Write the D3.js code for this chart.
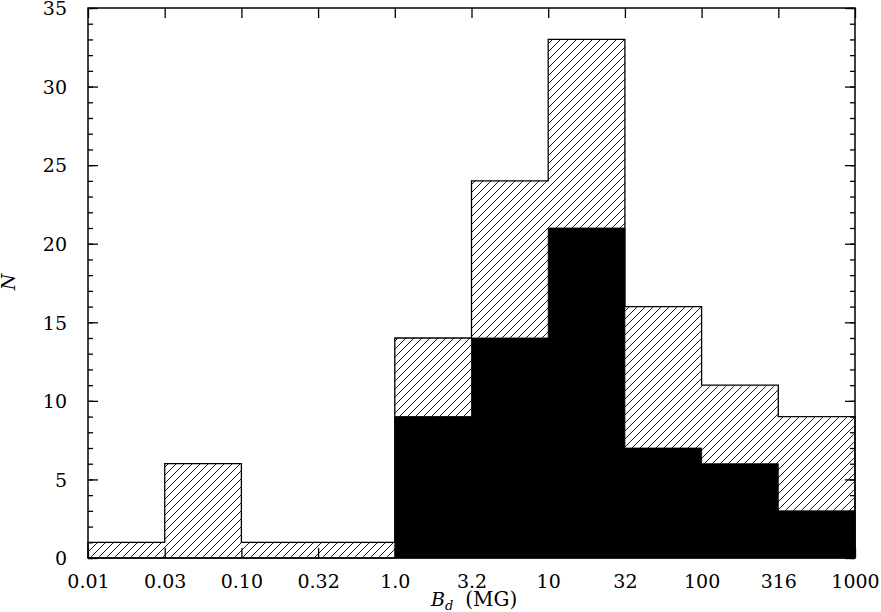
<!DOCTYPE html>
<html><head><meta charset="utf-8">
<script src="https://cdn.jsdelivr.net/npm/d3@7"></script>
<style>body{margin:0;background:#fff}svg{display:block}</style>
</head><body>
<svg id="c" width="881" height="612"></svg>
<script>
const edgeLabels = ["0.01","0.03","0.10","0.32","1.0","3.2","10","32","100","316","1000"];
const totalCounts = [1, 6, 1, 1, 14, 24, 33, 16, 11, 9];
const blackCounts = [0, 0, 0, 0, 9, 14, 21, 7, 6, 3];
const yMajorTicks = [0, 5, 10, 15, 20, 25, 30, 35];

const svg = d3.select("#c");
const L = 88, R = 855, T = 8, B = 558;
const x = d3.scaleLinear().domain([0, edgeLabels.length - 1]).range([L, R]);
const y = d3.scaleLinear().domain([0, 35]).range([B, T]);
const font = "DejaVu Serif";

const defs = svg.append("defs");
const w = 8;
const pat = defs.append("pattern").attr("id", "hatch")
  .attr("patternUnits", "userSpaceOnUse").attr("width", w).attr("height", w);
pat.append("path")
  .attr("d", `M0,${w} L${w},0 M${-w/2},${w/2} L${w/2},${-w/2} M${w/2},${w*1.5} L${w*1.5},${w/2}`)
  .attr("stroke", "#000").attr("stroke-width", 0.9);

const idx = d3.range(totalCounts.length);
function stepPoints(counts) {
  const p = [[0, 0]];
  counts.forEach((c, i) => { p.push([i, c]); p.push([i + 1, c]); });
  p.push([counts.length, 0]);
  return p;
}
const line = d3.line().x(d => x(d[0])).y(d => y(d[1]));

// hatched totals (single step area)
svg.append("path").attr("d", line(stepPoints(totalCounts)) + "Z")
  .attr("fill", "url(#hatch)").attr("stroke", "none");
// black subset (single step area)
svg.append("path").attr("d", line(stepPoints(blackCounts)) + "Z")
  .attr("fill", "#000").attr("stroke", "#000").attr("stroke-width", 0.8);
// step outline of totals
svg.append("path").attr("d", line(stepPoints(totalCounts)))
  .attr("fill", "none").attr("stroke", "#000").attr("stroke-width", 1.3);

// frame
svg.append("rect").attr("x", L).attr("y", T).attr("width", R - L).attr("height", B - T)
  .attr("fill", "none").attr("stroke", "#000").attr("stroke-width", 1.5);

const tickIdx = d3.range(edgeLabels.length);
const xb = svg.append("g").attr("transform", `translate(0,${B})`)
  .call(d3.axisBottom(x).tickValues(tickIdx).tickFormat(i => edgeLabels[i]).tickSize(-10).tickPadding(20));
const xt = svg.append("g").attr("transform", `translate(0,${T})`)
  .call(d3.axisTop(x).tickValues(tickIdx).tickFormat("").tickSize(-10));
const yl = svg.append("g").attr("transform", `translate(${L},0)`)
  .call(d3.axisLeft(y).tickValues(yMajorTicks).tickSize(-10).tickPadding(21));
const ylm = svg.append("g").attr("transform", `translate(${L},0)`)
  .call(d3.axisLeft(y).ticks(35).tickFormat("").tickSize(-5));
const yr = svg.append("g").attr("transform", `translate(${R},0)`)
  .call(d3.axisRight(y).tickValues(yMajorTicks).tickFormat("").tickSize(-10));
const yrm = svg.append("g").attr("transform", `translate(${R},0)`)
  .call(d3.axisRight(y).ticks(35).tickFormat("").tickSize(-5));

[xb, xt, yl, ylm, yr, yrm].forEach(g => {
  g.select(".domain").remove();
  g.selectAll("line").attr("stroke", "#000").attr("stroke-width", 1.3);
  g.selectAll("text").attr("font-family", font).attr("font-size", 19).attr("fill", "#000");
});
xb.selectAll("text").attr("dy", "0.5em");
yl.selectAll("text").attr("dy", "0.36em");

// axis labels
svg.append("text").attr("transform", `translate(15,282) rotate(-90)`)
  .attr("text-anchor", "middle").attr("font-family", font).attr("font-size", 19)
  .attr("font-style", "italic").text("N");
const xl = svg.append("text").attr("x", 431).attr("y", 606)
  .attr("text-anchor", "start").attr("font-family", font).attr("font-size", 19);
xl.append("tspan").attr("font-style", "italic").text("B");
xl.append("tspan").attr("font-style", "italic").attr("font-size", 13).attr("dy", 4).text("d");
xl.append("tspan").attr("dy", -4).attr("dx", 12).attr("font-size", 20).text("(MG)");
</script>
</body></html>
